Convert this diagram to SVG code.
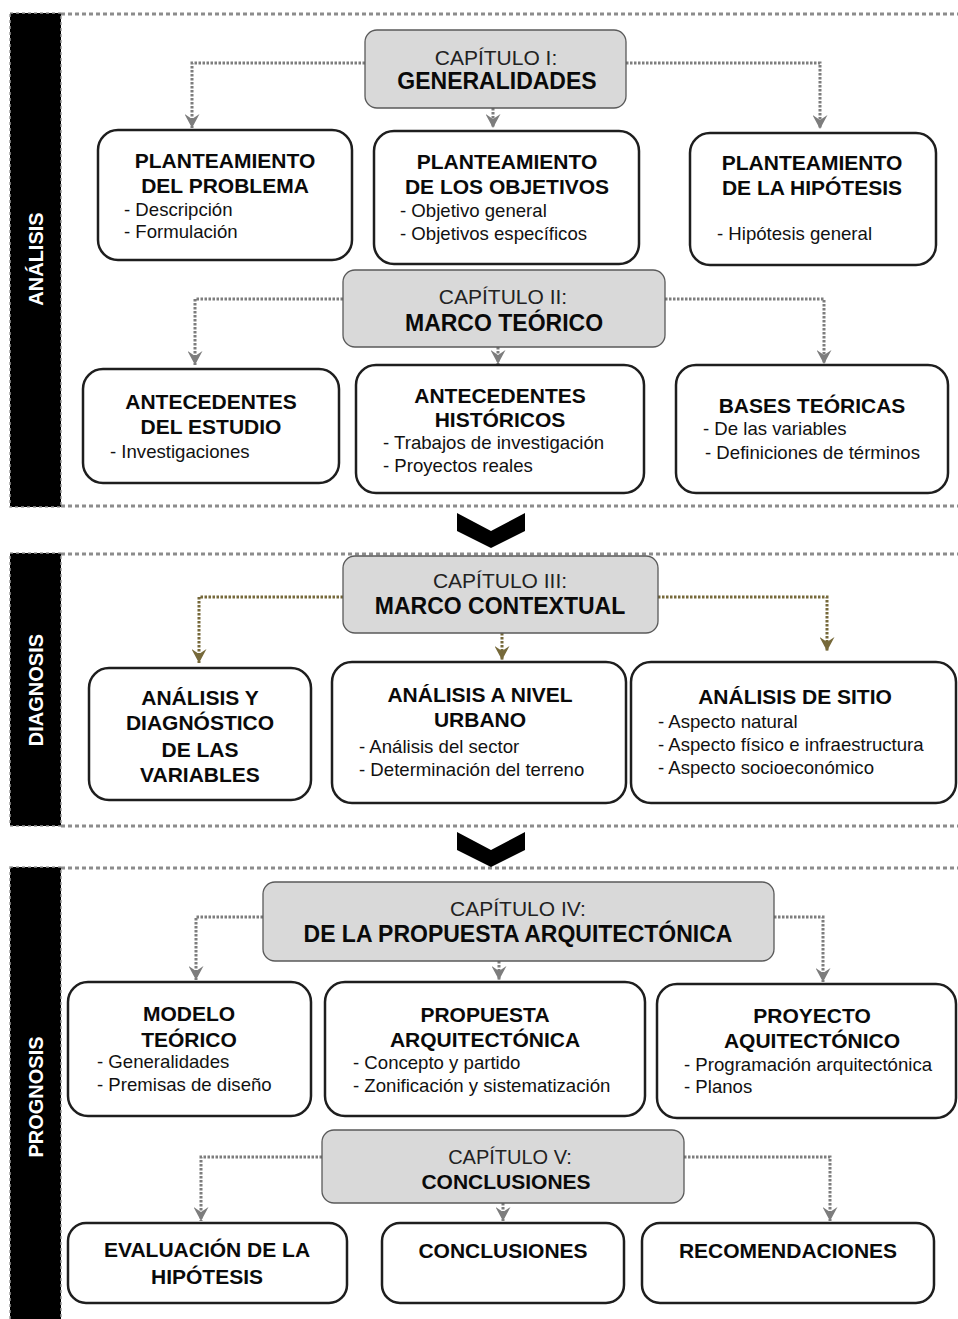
<svg xmlns="http://www.w3.org/2000/svg" width="958" height="1319" viewBox="0 0 958 1319">
<style>
text{font-family:"Liberation Sans",Arial,sans-serif;fill:#111}
.t{font-size:21px;font-weight:bold;text-anchor:middle;fill:#0a0a0a}
.i{font-size:18.6px}
.cs{font-size:21px;text-anchor:middle;fill:#222}
.ct{font-size:23px;font-weight:bold;text-anchor:middle;fill:#0a0a0a}
.side{font-size:20px;font-weight:bold;fill:#fff;text-anchor:middle}
.box{fill:#fff;stroke:#1e1e1e;stroke-width:2.5}
.cap{fill:#d9d9d9;stroke:#5a5a5a;stroke-width:1.3}
.sep{stroke:#8c8c8c;stroke-width:3;stroke-dasharray:4 3;fill:none}
.bar{fill:#000;stroke:#9a9a9a;stroke-width:1.5;stroke-dasharray:3 3}
.cg{fill:none;stroke:#7d7d7d;stroke-width:3;stroke-dasharray:2.5 1.5;marker-end:url(#ag)}
.co{fill:none;stroke:#76693a;stroke-width:3;stroke-dasharray:2.5 1.5;marker-end:url(#ao)}
</style>
<defs>
<marker id="ag" markerUnits="userSpaceOnUse" markerWidth="15" markerHeight="15" refX="14" refY="7.5" orient="auto" viewBox="0 0 15 15"><path d="M0,0 L14,7.5 L0,15 L5,7.5 Z" fill="#7d7d7d"/></marker>
<marker id="ao" markerUnits="userSpaceOnUse" markerWidth="15" markerHeight="15" refX="14" refY="7.5" orient="auto" viewBox="0 0 15 15"><path d="M0,0 L14,7.5 L0,15 L5,7.5 Z" fill="#76693a"/></marker>
</defs>
<rect width="958" height="1319" fill="#fff"/>

<g id="sections">
<rect class="bar" x="10" y="13" width="51" height="494"/>
<rect class="bar" x="10" y="553" width="51" height="273"/>
<rect class="bar" x="10" y="867" width="51" height="460"/>
<line class="sep" x1="61" y1="14" x2="958" y2="14"/>
<line class="sep" x1="61" y1="506" x2="958" y2="506"/>
<line class="sep" x1="61" y1="554" x2="958" y2="554"/>
<line class="sep" x1="61" y1="826" x2="958" y2="826"/>
<line class="sep" x1="61" y1="868" x2="958" y2="868"/>
<text class="side" transform="translate(43,259) rotate(-90)">ANÁLISIS</text>
<text class="side" transform="translate(43,690) rotate(-90)">DIAGNOSIS</text>
<text class="side" transform="translate(43,1097) rotate(-90)">PROGNOSIS</text>
<polygon points="457,513 491,531 525,513 525,531 491,548 457,531" fill="#000"/>
<polygon points="457,832 491,850 525,832 525,850 491,867 457,850" fill="#000"/>
</g>

<g id="connectors">
<path class="cg" d="M365,63 H192 V128"/>
<path class="cg" d="M493,108 V128"/>
<path class="cg" d="M626,63 H820 V129"/>
<path class="cg" d="M343,299 H195 V365"/>
<path class="cg" d="M498,347 V364"/>
<path class="cg" d="M665,299 H824 V364"/>
<path class="co" d="M343,597 H199 V663"/>
<path class="co" d="M502,633 V660"/>
<path class="co" d="M658,597 H827 V651"/>
<path class="cg" d="M263,917 H196 V980"/>
<path class="cg" d="M499,961 V980"/>
<path class="cg" d="M774,917 H823 V982"/>
<path class="cg" d="M322,1157 H201 V1221"/>
<path class="cg" d="M503,1203 V1221"/>
<path class="cg" d="M684,1157 H830 V1221"/>
</g>

<g id="cap1">
<rect class="cap" x="365" y="30" width="261" height="78" rx="12"/>
<text class="cs" x="496" y="65">CAPÍTULO I:</text>
<text class="ct" x="497" y="89">GENERALIDADES</text>
</g>
<g id="n-problema">
<rect class="box" x="98" y="130" width="254" height="130" rx="20"/>
<text class="t" x="225" y="168">PLANTEAMIENTO</text>
<text class="t" x="225" y="193">DEL PROBLEMA</text>
<text class="i" x="124" y="216">- Descripción</text>
<text class="i" x="124" y="238">- Formulación</text>
</g>
<g id="n-objetivos">
<rect class="box" x="374" y="131" width="265" height="133" rx="20"/>
<text class="t" x="507" y="169">PLANTEAMIENTO</text>
<text class="t" x="507" y="194">DE LOS OBJETIVOS</text>
<text class="i" x="400" y="217">- Objetivo general</text>
<text class="i" x="400" y="240">- Objetivos específicos</text>
</g>
<g id="n-hipotesis">
<rect class="box" x="690" y="133" width="246" height="132" rx="20"/>
<text class="t" x="812" y="170">PLANTEAMIENTO</text>
<text class="t" x="812" y="195">DE LA HIPÓTESIS</text>
<text class="i" x="717" y="240">- Hipótesis general</text>
</g>

<g id="cap2">
<rect class="cap" x="343" y="270" width="322" height="77" rx="12"/>
<text class="cs" x="503" y="304">CAPÍTULO II:</text>
<text class="ct" x="504" y="331">MARCO TEÓRICO</text>
</g>
<g id="n-ant-estudio">
<rect class="box" x="83" y="369" width="256" height="114" rx="20"/>
<text class="t" x="211" y="409">ANTECEDENTES</text>
<text class="t" x="211" y="434">DEL ESTUDIO</text>
<text class="i" x="110" y="458">- Investigaciones</text>
</g>
<g id="n-ant-historicos">
<rect class="box" x="356" y="365" width="288" height="128" rx="20"/>
<text class="t" x="500" y="403">ANTECEDENTES</text>
<text class="t" x="500" y="427">HISTÓRICOS</text>
<text class="i" x="383" y="449">- Trabajos de investigación</text>
<text class="i" x="383" y="472">- Proyectos reales</text>
</g>
<g id="n-bases">
<rect class="box" x="676" y="365" width="272" height="128" rx="20"/>
<text class="t" x="812" y="413">BASES TEÓRICAS</text>
<text class="i" x="703" y="435">- De las variables</text>
<text class="i" x="705" y="459">- Definiciones de términos</text>
</g>

<g id="cap3">
<rect class="cap" x="343" y="556" width="315" height="77" rx="12"/>
<text class="cs" x="500" y="588">CAPÍTULO III:</text>
<text class="ct" x="500" y="614">MARCO CONTEXTUAL</text>
</g>
<g id="n-variables">
<rect class="box" x="89" y="668" width="222" height="132" rx="20"/>
<text class="t" x="200" y="705">ANÁLISIS Y</text>
<text class="t" x="200" y="730">DIAGNÓSTICO</text>
<text class="t" x="200" y="757">DE LAS</text>
<text class="t" x="200" y="782">VARIABLES</text>
</g>
<g id="n-urbano">
<rect class="box" x="332" y="662" width="294" height="141" rx="20"/>
<text class="t" x="480" y="702">ANÁLISIS A NIVEL</text>
<text class="t" x="480" y="727">URBANO</text>
<text class="i" x="359" y="753">- Análisis del sector</text>
<text class="i" x="359" y="776">- Determinación del terreno</text>
</g>
<g id="n-sitio">
<rect class="box" x="631" y="662" width="325" height="141" rx="20"/>
<text class="t" x="795" y="704">ANÁLISIS DE SITIO</text>
<text class="i" x="658" y="728">- Aspecto natural</text>
<text class="i" x="658" y="751">- Aspecto físico e infraestructura</text>
<text class="i" x="658" y="774">- Aspecto socioeconómico</text>
</g>

<g id="cap4">
<rect class="cap" x="263" y="882" width="511" height="79" rx="12"/>
<text class="cs" x="518" y="916">CAPÍTULO IV:</text>
<text class="ct" x="518" y="942">DE LA PROPUESTA ARQUITECTÓNICA</text>
</g>
<g id="n-modelo">
<rect class="box" x="68" y="982" width="243" height="134" rx="20"/>
<text class="t" x="189" y="1021">MODELO</text>
<text class="t" x="189" y="1047">TEÓRICO</text>
<text class="i" x="97" y="1068">- Generalidades</text>
<text class="i" x="97" y="1091">- Premisas de diseño</text>
</g>
<g id="n-propuesta">
<rect class="box" x="325" y="982" width="320" height="134" rx="20"/>
<text class="t" x="485" y="1022">PROPUESTA</text>
<text class="t" x="485" y="1047">ARQUITECTÓNICA</text>
<text class="i" x="353" y="1069">- Concepto y partido</text>
<text class="i" x="353" y="1092">- Zonificación y sistematización</text>
</g>
<g id="n-proyecto">
<rect class="box" x="657" y="984" width="299" height="134" rx="20"/>
<text class="t" x="812" y="1023">PROYECTO</text>
<text class="t" x="812" y="1048">AQUITECTÓNICO</text>
<text class="i" x="684" y="1071">- Programación arquitectónica</text>
<text class="i" x="684" y="1093">- Planos</text>
</g>

<g id="cap5">
<rect class="cap" x="322" y="1130" width="362" height="73" rx="12"/>
<text class="cs" x="510" y="1164" style="font-size:20px">CAPÍTULO V:</text>
<text class="t" x="506" y="1189">CONCLUSIONES</text>
</g>
<g id="n-evaluacion">
<rect class="box" x="68" y="1223" width="279" height="80" rx="18"/>
<text class="t" x="207" y="1257">EVALUACIÓN DE LA</text>
<text class="t" x="207" y="1284">HIPÓTESIS</text>
</g>
<g id="n-conclusiones">
<rect class="box" x="382" y="1223" width="242" height="80" rx="18"/>
<text class="t" x="503" y="1258">CONCLUSIONES</text>
</g>
<g id="n-recomendaciones">
<rect class="box" x="642" y="1223" width="292" height="80" rx="18"/>
<text class="t" x="788" y="1258">RECOMENDACIONES</text>
</g>
</svg>
